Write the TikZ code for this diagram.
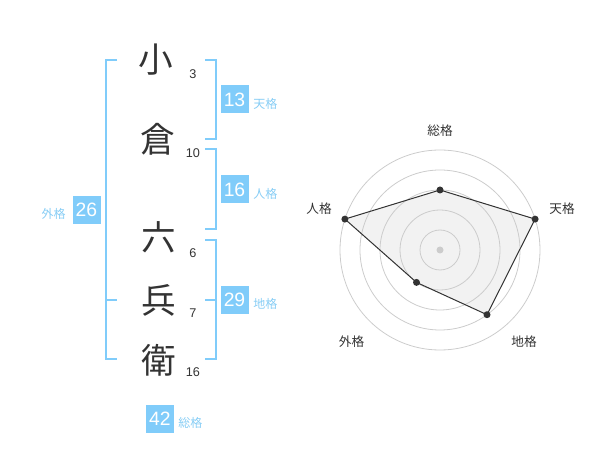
\documentclass[tikz,border=0pt]{standalone}
\usepackage{fontspec}
\setmainfont{Liberation Sans}
\newfontfamily\cjk{Noto Sans CJK JP}
\definecolor{boxblue}{RGB}{128,204,250}
\definecolor{lblblue}{RGB}{135,205,245}
\definecolor{ink}{RGB}{51,51,51}
\definecolor{ringgray}{RGB}{204,204,204}
\definecolor{fillgray}{RGB}{242,242,242}
\tikzset{
  kanji/.style={inner sep=0pt, text=ink, font=\cjk\fontsize{26pt}{26pt}\selectfont},
  stroke/.style={inner sep=0pt, text=ink, font=\fontsize{9.5pt}{10pt}\selectfont},
  valbox/.style={fill=boxblue, text=white, minimum size=21pt, inner sep=0pt, font=\fontsize{14.5pt}{15pt}\selectfont},
  kaku/.style={inner sep=0pt, text=lblblue, font=\cjk\fontsize{9pt}{10pt}\selectfont},
  bracket/.style={draw=boxblue, line width=1.5pt},
  radlbl/.style={inner sep=0pt, text=ink, font=\cjk\fontsize{9.5pt}{10pt}\selectfont},
  ring/.style={draw=ringgray, line width=0.6pt},
  pt/.style={fill=ink, draw=none},
}
\begin{document}
\begin{tikzpicture}[x=0.75pt, y=-0.75pt]
\useasboundingbox (0,0) rectangle (600,470);
% name characters
\node[kanji] (c1) at (156,60) {小};
\node[kanji] (c2) at (158,139) {倉};
\node[kanji] (c3) at (159,237) {六};
\node[kanji] (c4) at (159,300) {兵};
\node[kanji] (c5) at (159,360) {衛};
% stroke counts
\node[stroke] (n1) at (193,74) {3};
\node[stroke] (n2) at (193,153) {10};
\node[stroke] (n3) at (193,253) {6};
\node[stroke] (n4) at (193,313) {7};
\node[stroke] (n5) at (193,372) {16};
% brackets
\draw[bracket] (117,60) -- (106,60) -- (106,359) -- (117,359);
\draw[bracket] (106,300) -- (117,300);
\draw[bracket] (205,60) -- (216,60) -- (216,139) -- (205,139);
\draw[bracket] (205,149) -- (216,149) -- (216,229) -- (205,229);
\draw[bracket] (205,240) -- (216,240) -- (216,359) -- (205,359);
\draw[bracket] (216,300) -- (205,300);
% value boxes
\node[valbox] (ten) at (234.5,99.5) {13};
\node[kaku, anchor=west] (tenl) at (253,104) {天格};
\node[valbox] (jin) at (234.5,189.5) {16};
\node[kaku, anchor=west] (jinl) at (253,194) {人格};
\node[valbox] (gai) at (86.5,210) {26};
\node[kaku, anchor=east] (gail) at (66,214) {外格};
\node[valbox] (chi) at (234.5,300) {29};
\node[kaku, anchor=west] (chil) at (253,304) {地格};
\node[valbox] (sou) at (160,419) {42};
\node[kaku, anchor=west] (soul) at (178,423) {総格};
% radar chart
\coordinate (ctr) at (440,250);
\coordinate (pSou) at (440,190);
\coordinate (pTen) at (535.1,219.1);
\coordinate (pChi) at (487.0,314.7);
\coordinate (pGai) at (416.5,282.4);
\coordinate (pJin) at (344.9,219.1);
\fill[fillgray] (pSou) -- (pTen) -- (pChi) -- (pGai) -- (pJin) -- cycle;
\foreach \r in {20,40,60,80,100} \draw[ring] (ctr) circle[radius=\r*0.75pt];
\fill[ringgray] (ctr) circle[radius=3.5*0.75pt];
\draw[ink, line width=0.75pt, line join=miter] (pSou) -- (pTen) -- (pChi) -- (pGai) -- (pJin) -- cycle;
\foreach \p in {pSou,pTen,pChi,pGai,pJin} \fill[pt] (\p) circle[radius=3.5*0.75pt];
\node[radlbl] (rSou) at (440,131) {総格};
\node[radlbl] (rTen) at (562,208.5) {天格};
\node[radlbl] (rJin) at (319,208.5) {人格};
\node[radlbl] (rChi) at (524,342) {地格};
\node[radlbl] (rGai) at (351.5,342) {外格};
\end{tikzpicture}
\end{document}
